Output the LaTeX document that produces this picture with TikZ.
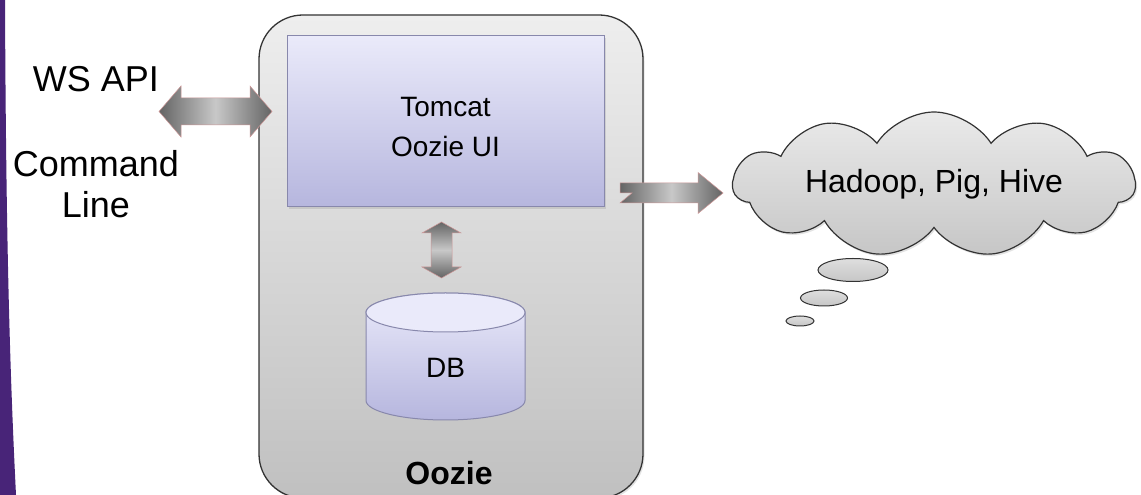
\documentclass[tikz,border=0pt]{standalone}
\usepackage{fontspec}
\setmainfont{Liberation Sans}
\usepackage{tikz}
\usetikzlibrary{shapes.symbols,shapes.geometric,shadows}
\definecolor{deckpurple}{RGB}{72,36,120}
\definecolor{boxtop}{RGB}{238,238,238}
\definecolor{boxbot}{RGB}{192,192,192}
\definecolor{uitop}{RGB}{234,234,250}
\definecolor{uibot}{RGB}{182,182,222}
\definecolor{uiedge}{RGB}{136,136,172}
\definecolor{arrdark}{RGB}{100,100,100}
\definecolor{arrlight}{RGB}{200,200,200}
\definecolor{arredge}{RGB}{205,150,150}
\definecolor{cloudtop}{RGB}{234,234,234}
\definecolor{cloudbot}{RGB}{198,198,198}
\tikzset{
  softshadow/.style={drop shadow={opacity=0.22, shadow xshift=1.5pt, shadow yshift=-2pt}},
  oozbox/.style={draw=black!80, line width=1.3pt, rounded corners=44pt, top color=boxtop, bottom color=boxbot, softshadow},
  uibox/.style={draw=uiedge, line width=1pt, top color=uitop, bottom color=uibot, softshadow},
  dbedge/.style={draw=uiedge, line width=1pt},
  fatarrow/.style={draw=arredge, line width=0.5pt},
  bubble/.style={ellipse, draw=black!80, line width=1pt, top color=cloudtop!95!black, bottom color=cloudbot, inner sep=0pt},
  bigtext/.style={font=\fontsize{36}{41}\selectfont, align=center}
}

\begin{document}
\begin{tikzpicture}[x=1pt, y=1pt]
    \useasboundingbox (0,0) rectangle (1141,495);
    \fill[white] (0,0) rectangle (1141,495);
    \fill[deckpurple] (0,495) -- (5,495) .. controls (6,250) and (10,120) .. (16,0) -- (0,0) -- cycle;

    \node (oozie) [oozbox, minimum width=384pt, minimum height=483pt] at (451,238.5) {};
    \node (ui) [uibox, minimum width=317pt, minimum height=171pt] at (445.5,373.5) {};
    \node (uilabel) [font=\fontsize{28}{40}\selectfont, align=center] at (445.5,368) {Tomcat\\Oozie UI};
    \node (oozielabel) [font=\fontsize{32}{38}\selectfont\bfseries] at (449,21.5) {Oozie};

    \node (api) [bigtext] at (96,416) {WS API};
    \node (cli) [bigtext] at (96,310.5) {Command\\Line};

    \coordinate (wsL) at (159,383.5);
    \coordinate (dbT) at (441.5,273);
    \coordinate (jobL) at (620,302);

    \shade[fatarrow, left color=arrdark, right color=arrdark, middle color=arrlight]
      (wsL) -- +(22,25.5) -- +(22,13.5) -- +(91,13.5) -- +(91,25.5) -- +(113,0)
      -- +(91,-25.5) -- +(91,-13.5) -- +(22,-13.5) -- +(22,-25.5) -- cycle;
    \shade[fatarrow, top color=arrdark, bottom color=arrdark, middle color=arrlight]
      (dbT) -- +(19.5,-11) -- +(10.5,-11) -- +(10.5,-45) -- +(19.5,-45) -- +(0,-56)
      -- +(-19.5,-45) -- +(-10.5,-45) -- +(-10.5,-11) -- +(-19.5,-11) -- cycle;
    \shade[fatarrow, left color=arrdark, right color=arrdark, middle color=arrlight]
      (jobL) -- +(0,10) -- +(78,10) -- +(78,20.5) -- +(103,0) -- +(78,-20.5)
      -- +(78,-10) -- +(0,-10) -- +(12,0) -- cycle;

    \shade[dbedge, top color=uitop, bottom color=uibot] (366,182.5) -- (366,94.5)
      arc[start angle=180, end angle=360, x radius=79.5, y radius=19.5]
      -- (525,182.5) arc[start angle=0, end angle=180, x radius=79.5, y radius=19.5] -- cycle;
    \draw[dbedge, fill=uitop] (445.5,182.5) ellipse [x radius=79.5, y radius=19.5];
    \node (db) [font=\fontsize{28}{34}\selectfont] at (445.5,127) {DB};

    \node (jobs) [cloud, cloud puffs=11, cloud puff arc=115, cloud ignores aspect,
      minimum width=402pt, minimum height=145pt, draw=black!80, line width=1.2pt,
      top color=cloudtop, bottom color=cloudbot, softshadow,
      font=\fontsize{32}{38}\selectfont] at (934,310.5) {Hadoop, Pig, Hive};
    \node (bub1) [bubble, minimum width=70pt, minimum height=23pt] at (853,225) {};
    \node (bub2) [bubble, minimum width=47pt, minimum height=16pt] at (824,197) {};
    \node (bub3) [bubble, minimum width=28pt, minimum height=10pt] at (800,174) {};
\end{tikzpicture}
\end{document}
